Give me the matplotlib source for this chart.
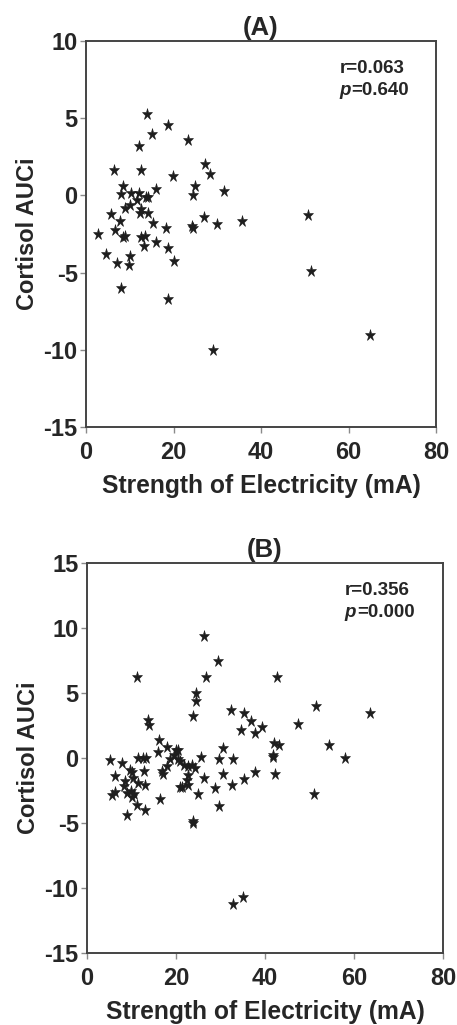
import matplotlib
matplotlib.use("Agg")
import matplotlib.pyplot as plt

plt.rcParams['font.family'] = ['Liberation Sans', 'DejaVu Sans']
plt.rcParams['axes.unicode_minus'] = False

# Panel A data
a_x = [13.9, 18.8, 15.0, 23.2, 12.0, 27.2, 6.5, 12.5, 28.3, 19.8, 8.5, 24.9, 16.0, 31.6,
       24.4, 8.0, 10.3, 12.2, 13.7, 14.2, 11.6, 8.8, 10.1, 12.6, 12.3, 14.1, 5.7, 7.8,
       15.2, 18.3, 27.0, 29.9, 35.7, 24.2, 24.4, 6.6, 2.8, 8.4, 8.8, 12.6, 13.5, 16.0,
       13.3, 18.7, 20.0, 4.6, 10.1, 7.0, 9.8, 8.0, 18.7, 29.1, 50.7, 51.4, 64.8]
a_y = [5.26, 4.55, 4.0, 3.57, 3.18, 2.06, 1.62, 1.62, 1.36, 1.23, 0.58, 0.58, 0.39, 0.26,
       0.0, 0.06, 0.17, 0.17, -0.08, -0.1, -0.32, -0.8, -0.65, -0.87, -1.15, -1.12, -1.19, -1.69,
       -1.77, -2.12, -1.41, -1.84, -1.69, -1.95, -2.1, -2.23, -2.53, -2.68, -2.65, -2.7, -2.6, -3.03,
       -3.25, -3.4, -4.22, -3.8, -3.9, -4.37, -4.48, -6.0, -6.7, -10.0, -1.25, -4.87, -9.05]

# Panel B data
b_x = [26.3, 29.4, 11.2, 26.7, 42.8, 24.6, 24.4, 23.9, 32.4, 35.3, 36.9, 39.4, 34.5, 37.8,
       51.4, 63.7, 47.5, 42.0, 43.2, 41.7, 41.9, 54.4, 58.0, 42.2, 50.9, 13.7, 13.9,
       16.1, 15.9, 17.9, 19.9, 20.4, 30.5, 25.6, 29.7, 32.7, 20.5, 21.8, 22.8, 23.5, 24.2,
       22.7, 22.4, 26.3, 30.5, 37.8, 35.2, 32.5, 28.7, 21.3, 22.8, 24.9, 29.6, 23.8, 23.9,
       32.7, 35.1,
       5.2, 7.8, 11.5, 12.5, 13.2, 19.5, 18.6, 20.8, 9.7, 10.1, 12.9, 16.8, 17.1, 17.9,
       6.3, 8.5, 8.4, 11.4, 13.0, 5.7, 6.3, 9.1, 10.0, 10.6, 11.2, 13.1, 8.9, 16.3, 20.9,
       10.4, 9.8]
b_y = [9.4, 7.5, 6.25, 6.25, 6.25, 5.0, 4.4, 3.2, 3.7, 3.5, 2.85, 2.4, 2.15, 1.95,
       4.0, 3.5, 2.65, 1.15, 1.0, 0.2, 0.05, 1.0, 0.0, -1.2, -2.8, 2.95, 2.55,
       1.35, 0.5, 0.85, 0.6, 0.65, 0.8, 0.05, -0.1, -0.1, -0.1, -0.5, -0.6, -0.5, -0.8,
       -1.3, -1.7, -1.5, -1.25, -1.1, -1.65, -2.1, -2.3, -2.2, -2.1, -2.75, -3.7, -4.85, -5.0,
       -11.25, -10.7,
       -0.15, -0.35, 0.0, 0.0, 0.0, 0.2, -0.1, -0.25, -0.9, -1.05, -1.0, -1.0, -1.2, -0.6,
       -1.4, -1.8, -2.15, -1.95, -2.1, -2.85, -2.65, -2.7, -3.0, -2.75, -3.6, -4.0, -4.35, -3.15, -2.2,
       -1.55, -2.5]

x_ticks = [0, 20, 40, 60, 80]
a_yticks = [-15, -10, -5, 0, 5, 10]
b_yticks = [-15, -10, -5, 0, 5, 10, 15]

W, H = 457, 1025
fig = plt.figure(figsize=(W / 100, H / 100), dpi=100)

text_color = '#262626'
spine_color = '#444444'


def make_panel(rect, xs, ys, yticks, ylim, title, rtxt, ptxt):
    ax = fig.add_axes(rect)
    ax.plot(xs, ys, linestyle='none', marker='*', markersize=8.3,
            color='#1e1e1e', markeredgewidth=0.4)
    ax.set_xlim(0, 80)
    ax.set_ylim(*ylim)
    ax.set_xticks(x_ticks)
    ax.set_yticks(yticks)
    for s in ax.spines.values():
        s.set_color(spine_color)
        s.set_linewidth(1.4)
    ax.tick_params(direction='out', length=4.5, width=1, color='#8a8a8a',
                   labelsize=17, labelcolor=text_color)
    ax.tick_params(axis='x', pad=5.5)
    ax.tick_params(axis='y', pad=1.5)
    for lab in ax.get_xticklabels() + ax.get_yticklabels():
        lab.set_fontweight('bold')
    ax.set_xlabel('Strength of Electricity (mA)', fontsize=17.7, fontweight='bold',
                  color=text_color, labelpad=7)
    ax.set_ylabel('Cortisol AUCi', fontsize=17, fontweight='bold',
                  color=text_color, labelpad=3)
    ax.set_title(title, fontsize=18.5, fontweight='bold', color=text_color, pad=4)
    ax.text(0.724, 0.93, rtxt, transform=ax.transAxes, fontsize=13.5,
            fontweight='bold', color=text_color, va='center', ha='left')
    ax.text(0.724, 0.873, 'p', transform=ax.transAxes, fontsize=13.5,
            fontweight='bold', fontstyle='italic', color=text_color, va='center', ha='left')
    ax.text(0.724 + 0.035, 0.873, ptxt, transform=ax.transAxes, fontsize=13.5,
            fontweight='bold', color=text_color, va='center', ha='left')
    return ax


make_panel([86 / W, 1 - 427 / H, 350 / W, 386 / H], a_x, a_y, a_yticks, (-15, 10),
           '(A)', 'r=0.063', '=0.640')
make_panel([87 / W, 1 - 953 / H, 356 / W, 390 / H], b_x, b_y, b_yticks, (-15, 15),
           '(B)', 'r=0.356', '=0.000')

fig.savefig('out.png', dpi=100)
